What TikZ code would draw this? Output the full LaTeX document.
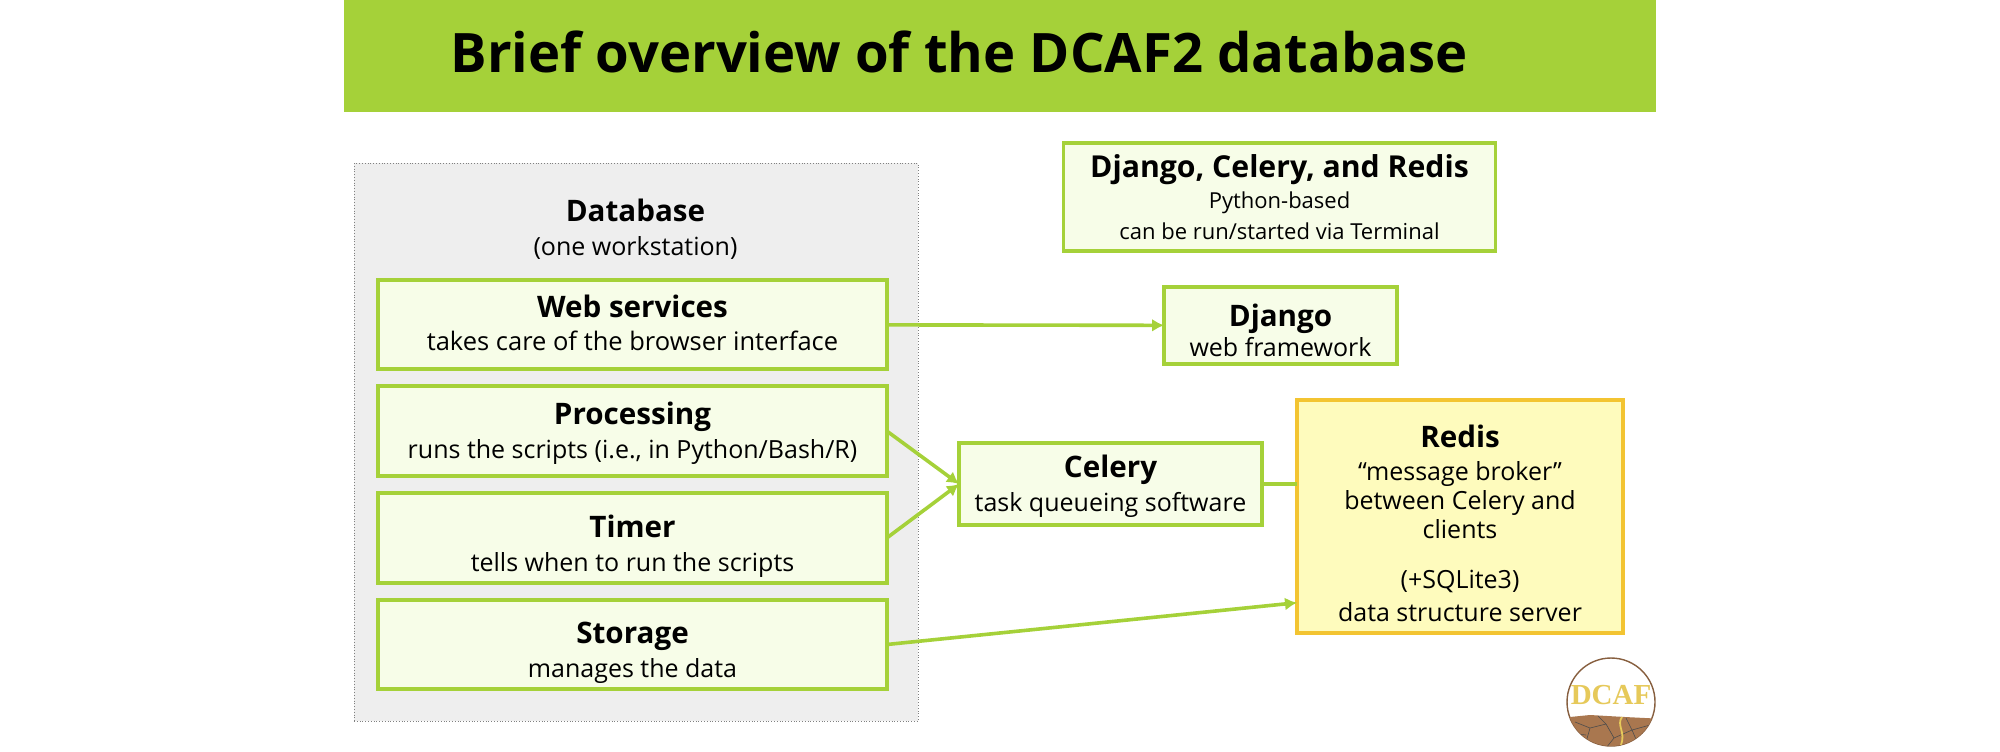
\documentclass[tikz,border=0pt]{standalone}
\usepackage{fontspec}
\setmainfont{Open Sans}
\newfontfamily\logofont{Liberation Serif}
\usepackage{xcolor}
\usetikzlibrary{arrows.meta,positioning,calc}
\definecolor{leaf}{HTML}{A5D139}
\definecolor{leafpale}{HTML}{F7FDE8}
\definecolor{panelgray}{HTML}{EEEEEE}
\definecolor{amber}{HTML}{F3C431}
\definecolor{cream}{HTML}{FEFBBD}
\definecolor{soil}{HTML}{A9774F}
\definecolor{logogold}{HTML}{E6C95A}
\newcommand{\Head}[1]{{\fontsize{14.8}{17}\selectfont\bfseries #1}}
\newcommand{\Lift}[1]{\rule{0pt}{#1}}
\tikzset{
  greenbox/.style={draw=leaf, fill=leafpale, line width=1.8pt, outer sep=0pt, inner sep=0pt, align=center},
  goldbox/.style={draw=amber, fill=cream, line width=1.8pt, outer sep=0pt, inner sep=0pt, align=center},
  link/.style={draw=leaf, line width=1.8pt, -{Latex[length=6pt,width=6.5pt]}}
}

\begin{document}
\begin{tikzpicture}[x=0.5pt, y=-0.5pt, font=\fontsize{12.5}{17}\selectfont, node distance=8.5pt]
  \useasboundingbox (0,0) rectangle (2000,751);
  \node (band) [fill=leaf, minimum width=656pt, minimum height=56pt, inner sep=0pt, outer sep=0pt, anchor=north west] at (344,0) {};
  \node (title) [font=\fontsize{27.2}{33}\selectfont\bfseries] at (959,52) {Brief overview of the DCAF2 database};
  % left column
  \node (panel) [draw=gray, densely dotted, fill=panelgray, line width=0.4pt, minimum width=282pt, minimum height=279pt, inner sep=0pt, anchor=north west] at (353.5,163) {};
  \node (dbhead) [align=center] at (635.5,229) {\Head{Database}\\(one workstation)};
  \node (web) [greenbox, minimum width=254.25pt, minimum height=44.5pt] at (632.5,324.5)
    {\Head{Web services}\\[-0.6pt]{\fontsize{12.75}{17}\selectfont takes care of the browser interface}\rule[-2pt]{0pt}{0pt}};
  \node (proc) [greenbox, minimum width=254.25pt, minimum height=45pt, below=of web]
    {\Lift{13pt}\Head{Processing}\\runs the scripts (i.e., in Python/Bash/R)};
  \node (timer) [greenbox, minimum width=254.25pt, minimum height=45pt, below=of proc]
    {\Lift{19pt}\Head{Timer}\\tells when to run the scripts};
  \node (store) [greenbox, minimum width=254.25pt, minimum height=44.5pt, below=of timer]
    {\Lift{19pt}\Head{Storage}\\manages the data};
  % right side
  \node (stack) [greenbox, minimum width=216pt, minimum height=54pt] at (1279.5,197)
    {{\fontsize{15.1}{17}\selectfont\bfseries Django, Celery, and Redis}\\[-1.7pt]{\fontsize{11}{15}\selectfont Python-based}\\[-1.65pt]{\fontsize{11}{15}\selectfont can be run/started via Terminal}};
  \node (django) [greenbox, minimum width=116.5pt, minimum height=38.5pt] at (1280.5,325.5)
    {\Lift{16pt}\Head{Django}\\[-2pt]web framework};
  \node (celery) [greenbox, minimum width=151.5pt, minimum height=41pt] at (1110.5,484)
    {\Lift{13pt}\Head{Celery}\\task queueing software};
  \node (redis) [goldbox, minimum width=163pt, minimum height=116.5pt] at (1460,516.5)
    {\Lift{18pt}\Head{Redis}\\[-0.5pt]``message broker''\\[-2.5pt]between Celery and\\[-2.5pt]clients\\[8pt](+SQLite3)\\[-0.5pt]data structure server};
  \coordinate (redisin) at ($(redis.south west)!0.13!(redis.north west)$);
  % connectors
  \draw[link] (web) -- (django);
  \draw[link] (proc.east) -- (celery.west);
  \draw[link] (timer.east) -- (celery.west);
  \draw[link] (store.east) -- (redisin);
  \draw[leaf, line width=1.8pt] (celery.east) -- (celery.east -| redis.west);
  % logo
  \node (logo) [circle, draw=soil!80!black, line width=0.7pt, fill=white, minimum size=44pt, inner sep=0pt] at (1611,702) {};
  \begin{scope}
    \clip (logo.center) circle (44);
    \fill[soil] (1560,718) -- (1590,715) -- (1625,717) -- (1665,719) -- (1665,750) -- (1560,750) -- cycle;
    \draw[black!70, line width=0.3pt] (1575,722) -- (1590,728) -- (1586,742) (1590,728) -- (1606,724) -- (1614,738) -- (1606,748) (1614,738) -- (1632,730) -- (1650,725) (1632,730) -- (1638,744) (1568,733) -- (1586,735) (1598,716) -- (1606,724) (1632,730) -- (1626,718);
    \draw[logogold, line width=0.9pt] (1622,717) .. controls (1616,725) and (1626,732) .. (1621,745);
  \end{scope}
  \node (logotext) [font=\logofont\fontsize{14.5}{15}\selectfont\bfseries, text=logogold] at (1611,695) {DCAF};
\end{tikzpicture}
\end{document}
